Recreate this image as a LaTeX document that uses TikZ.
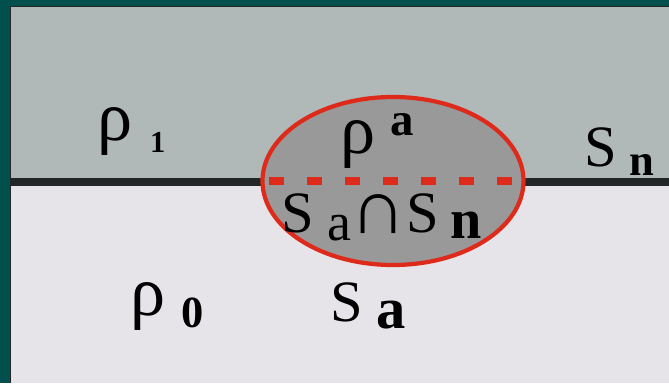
\documentclass[tikz,border=0pt]{standalone}
\usepackage{fontspec}
\setmainfont{Liberation Serif}
\usetikzlibrary{shapes.geometric}
\definecolor{tealbg}{HTML}{02504E}
\definecolor{phaseone}{HTML}{B0B8B8}
\definecolor{phasezero}{HTML}{E6E4E9}
\definecolor{dropfill}{HTML}{999999}
\definecolor{dropred}{HTML}{DD2A1B}
\definecolor{interface}{HTML}{222626}
\tikzset{
  lbl/.style={inner sep=0pt, anchor=base west},
  big/.style={lbl, font=\fontsize{50}{50}\selectfont},
  rho/.style={lbl, font=\fontsize{60}{60}\selectfont},
}
\begin{document}
\begin{tikzpicture}[x=0.03cm, y=-0.03cm]
    \useasboundingbox (0,0) rectangle (669,383);
    %cornice
    \fill[tealbg] (0,0) rectangle (669,383);
    %fase 1 e fase 0
    \fill[phaseone] (11,7) rectangle (669,182);
    \fill[phasezero] (11,182) rectangle (669,383);
    \draw[interface, line width=0.6pt] (10.5,383) -- (10.5,6.5) -- (669,6.5);
    %interfaccia Sn
    \coordinate (snL) at (11,182);
    \coordinate (snR) at (669,182);
    \draw[interface, line width=6pt] (snL) -- (snR);
    %goccia
    \node[ellipse, draw=dropred, fill=dropfill, line width=3.6pt, inner sep=0pt,
          minimum width=7.83cm, minimum height=5.04cm] (drop) at (393,181) {};
    \draw[dropred, line width=6pt, dash pattern=on 12.8pt off 19.6pt, dash phase=-4pt]
        ([xshift=0.12cm]drop.west) -- ([xshift=-0.12cm]drop.east);

    %label fase 1
    \node[rho] (rho1) at (97,140) {ρ};
    \node[lbl, font=\fontsize{26}{26}\selectfont\bfseries] (one) at (150,152) {1};
    %label goccia
    \node[rho] (rhoa) at (340,153) {ρ};
    \node[lbl, font=\fontsize{40}{40}\selectfont\bfseries] (supa) at (390,135) {a};
    %label Sn
    \node[big] (Sn) at (584,166) {S};
    \node[lbl, font=\fontsize{38}{38}\selectfont\bfseries] (subn) at (629,175) {n};
    %label intersezione
    \node[big] (Sint) at (281,232) {S};
    \node[lbl, font=\fontsize{46}{46}\selectfont] (inta) at (327,240) {a};
    \node[lbl, font=\fontsize{66}{66}\selectfont] (cap) at (350,233) {∩};
    \node[big] (Sint2) at (406,232) {S};
    \node[lbl, font=\fontsize{48}{48}\selectfont\bfseries] (intn) at (450,238) {n};
    %label fase 0
    \node[rho] (rho0) at (130,315) {ρ};
    \node[lbl, font=\fontsize{38}{38}\selectfont\bfseries] (zero) at (181,327) {0};
    %label Sa
    \node[big] (Sa) at (330,321) {S};
    \node[lbl, font=\fontsize{50}{50}\selectfont\bfseries] (suba) at (376,328) {a};
\end{tikzpicture}
\end{document}
